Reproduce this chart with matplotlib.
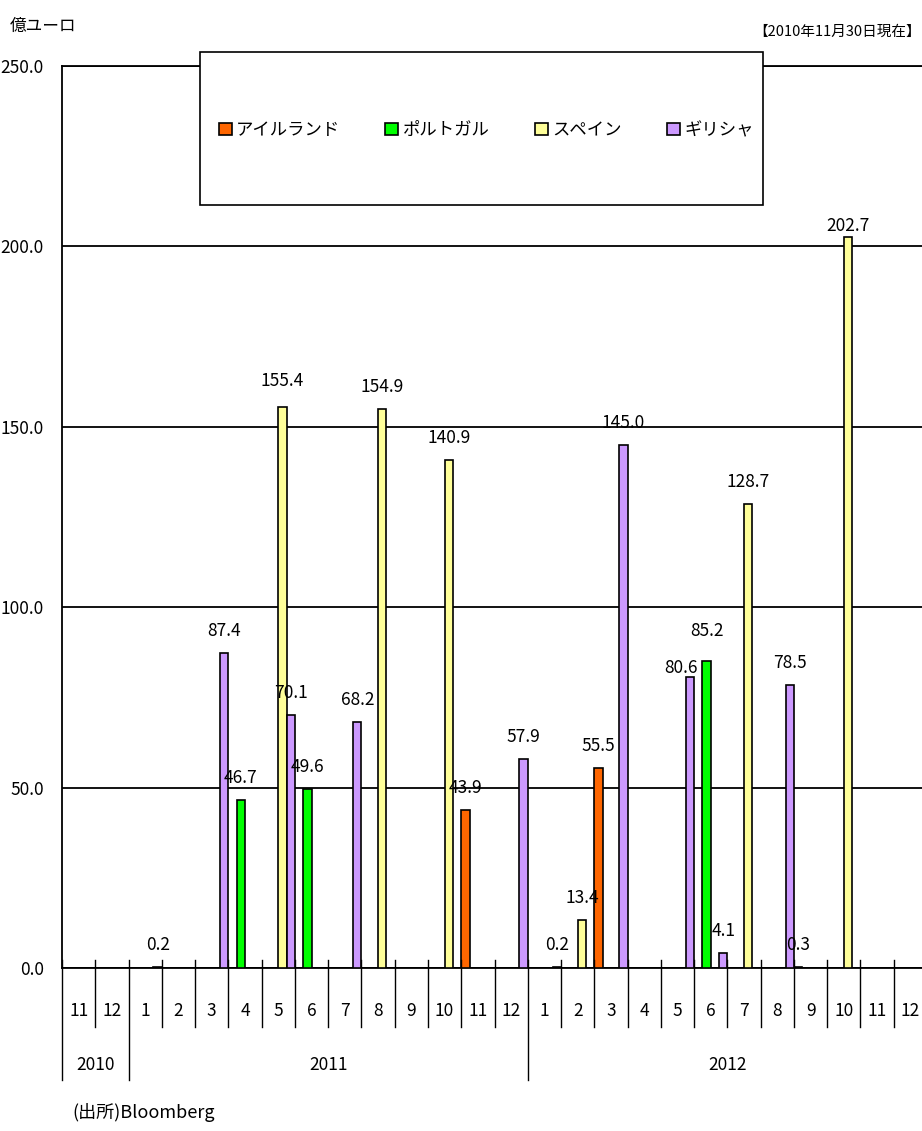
import matplotlib
matplotlib.use("Agg")
import matplotlib.pyplot as plt
from matplotlib.patches import Rectangle
from matplotlib.transforms import blended_transform_factory
import numpy as np

# ---- data (億ユーロ, monthly redemptions) ----
month_labels = ["11", "12",
                "1", "2", "3", "4", "5", "6", "7", "8", "9", "10", "11", "12",
                "1", "2", "3", "4", "5", "6", "7", "8", "9", "10", "11", "12"]
years = ["2010", "2011", "2012"]
year_spans = [(0, 1), (2, 13), (14, 25)]

series_names = ["アイルランド", "ポルトガル", "スペイン", "ギリシャ"]
ireland = [0, 0, 0, 0, 0, 0, 0, 0, 0, 0, 0, 0, 43.9, 0,
           0, 0, 55.5, 0, 0, 0, 0, 0, 0.3, 0, 0, 0]
portugal = [0, 0, 0, 0, 0, 46.7, 0, 49.6, 0, 0, 0, 0, 0, 0,
            0, 0, 0, 0, 0, 85.2, 0, 0, 0, 0, 0, 0]
spain = [0, 0, 0, 0, 0, 0, 155.4, 0, 0, 154.9, 0, 140.9, 0, 0,
         0, 13.4, 0, 0, 0, 0, 128.7, 0, 0, 202.7, 0, 0]
greece = [0, 0, 0.2, 0, 87.4, 0, 70.1, 0, 68.2, 0, 0, 0, 0, 57.9,
          0.2, 0, 145.0, 0, 80.6, 4.1, 0, 78.5, 0, 0, 0, 0]
series_values = [ireland, portugal, spain, greece]
colors = ["#FF6600", "#00FF00", "#FFFF99", "#CC99FF"]

FONT = ["Noto Sans CJK JP", "DejaVu Sans"]
plt.rcParams["font.family"] = FONT

W, H = 922, 1131
fig = plt.figure(figsize=(W / 100, H / 100), dpi=100)
fig.patch.set_facecolor("white")

# axes: x = -0.5 at 62 px, each month 33.27 px wide; y 0 at 968 px, 250 at 66 px
left_px, right_px = 62, 62 + 26 * 33.27
top_px, bot_px = 66, 968
ax = fig.add_axes([left_px / W, 1 - bot_px / H,
                   (right_px - left_px) / W, (bot_px - top_px) / H])

x = np.arange(len(month_labels))
bw = 0.25
offsets = [-0.375, -0.125, 0.125, 0.375]

# per-label nudges (pixels) where labels were moved to avoid crowding
nudges = {(3, 18): (-9, -13), (1, 19): (0, 8), (2, 23): (0, -11), (2, 6): (0, 4)}

for si, (vals, col, off) in enumerate(zip(series_values, colors, offsets)):
    ax.bar(x + off, vals, width=bw, color=col, edgecolor="black",
           linewidth=1.2, zorder=3, label=series_names[si])
    for mi, v in enumerate(vals):
        if v:
            dx, dy = nudges.get((si, mi), (0, 0))
            ax.annotate(f"{v:.1f}", xy=(mi + off, v),
                        xytext=(dx * 0.72, (22 + dy) * 0.72),
                        textcoords="offset points", ha="center", va="center",
                        fontsize=12.5, zorder=4)

ax.set_xlim(-0.5, 25.5)
ax.set_ylim(0, 250)
ax.set_yticks(np.arange(0, 251, 50))
ax.set_yticklabels([f"{t:.1f}" for t in np.arange(0, 251, 50)], fontsize=12.5)
ax.tick_params(axis="y", length=0, pad=13)
ax.set_xticks([])
ax.yaxis.grid(True, color="black", linewidth=1.3, zorder=1)
ax.set_axisbelow(True)
ax.spines["right"].set_visible(False)
for s in ["left", "bottom", "top"]:
    ax.spines[s].set_color("black")
    ax.spines[s].set_linewidth(1.3)

# category axis: month separators, month labels, year separators and labels
ax_h = bot_px - top_px
trans = blended_transform_factory(ax.transData, ax.transAxes)
year_bounds = {s - 0.5 for s, _ in year_spans}
for k in range(27):
    bx = k - 0.5
    y0 = 8 / ax_h
    y1 = -(112 if bx in year_bounds else 59) / ax_h
    ax.plot([bx, bx], [y0, y1], color="black", linewidth=1.0,
            transform=trans, clip_on=False, zorder=5)
for i, lab in enumerate(month_labels):
    ax.text(i, -(1011 - bot_px) / ax_h, lab, transform=trans,
            ha="center", va="center", fontsize=12.5)
for yr, (s, e) in zip(years, year_spans):
    ax.text((s + e) / 2, -(1065 - bot_px) / ax_h, yr, transform=trans,
            ha="center", va="center", fontsize=12.5)

# legend box
box = Rectangle((200 / W, 1 - 205 / H), (763 - 200) / W, (205 - 52) / H,
                transform=fig.transFigure, facecolor="white",
                edgecolor="black", linewidth=1.2, zorder=2)
fig.add_artist(box)
handles, labels = ax.get_legend_handles_labels()
leg = fig.legend(handles, labels, loc="center",
                 bbox_to_anchor=(486 / W, 1 - 130 / H), ncol=4,
                 frameon=False, handlelength=0.75,
                 handleheight=0.75, handletextpad=0.25, columnspacing=2.6,
                 prop={"family": FONT, "size": 12.5})
leg.set_zorder(6)

# titles and source note
fig.text(10 / W, 1 - 26 / H, "億ユーロ", ha="left", va="center",
         fontsize=12, family=FONT)
fig.text(921 / W, 1 - 32 / H, "【2010年11月30日現在】", ha="right",
         va="center", fontsize=10.5, family=FONT)
fig.text(72 / W, 1 - 1112 / H, "(出所)Bloomberg", ha="left", va="center",
         fontsize=13, family=FONT)

fig.savefig("out.png", dpi=100, facecolor="white")
